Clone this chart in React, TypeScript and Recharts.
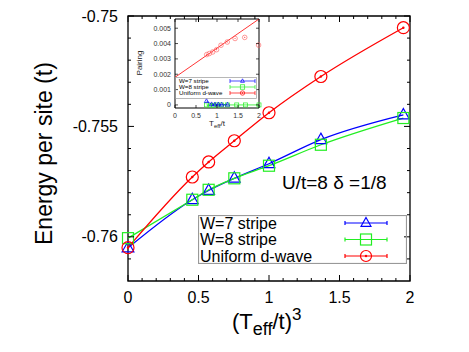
import React from "react";
import { Legend, Line, LineChart, ReferenceArea, XAxis, YAxis } from "recharts";

const FONT = "'Liberation Sans', Arial, Helvetica, sans-serif";

// main panel: energy per site vs (Teff/t)^3
const T_CUBED = [0, 0.456, 0.572, 0.754, 1.0, 1.368, 1.953];
const W7_ENERGY = [-0.7605, -0.75832, -0.7579, -0.75735, -0.75669, -0.7556, -0.75448];
const W8_ENERGY = [-0.76006, -0.75832, -0.75787, -0.75735, -0.75678, -0.75583, -0.75462];
const DWAVE_ENERGY = [-0.76049, -0.75729, -0.75661, -0.75565, -0.75438, -0.75274, -0.75053];

const Y_TICKS = [-0.761, -0.76, -0.759, -0.758, -0.757, -0.756, -0.755, -0.754, -0.753, -0.752, -0.751, -0.75];
const Y_LABELS = [-0.76, -0.755, -0.75];
const X_TICKS = [0, 0.1, 0.2, 0.3, 0.4, 0.5, 0.6, 0.7, 0.8, 0.9, 1, 1.1, 1.2, 1.3, 1.4, 1.5, 1.6, 1.7, 1.8, 1.9, 2];
const X_LABELS = [0, 0.5, 1, 1.5, 2];

// inset: pairing vs Teff/t
const INSET_T_W7 = [0.75, 0.87, 0.95, 1.03, 1.11, 1.25];
const INSET_PAIR_W7 = [0.00025, 0.00004, 0.00003, 0.00003, 0.00002, 0.00002];
const INSET_T_W8 = [0.75, 0.83, 0.91, 1.0, 1.11, 1.25, 1.47, 1.68, 2.0];
const INSET_PAIR_W8 = [0, -0.00008, -0.00002, 0, 0, 0, 0, 0, 0];
const INSET_T_DW = [0.755, 0.817, 0.897, 0.99, 1.095, 1.245, 1.43, 1.66, 1.99];
const INSET_PAIR_DW = [0.00328, 0.00335, 0.00345, 0.0036, 0.00389, 0.0041, 0.00433, 0.0044, 0.0039];
const INSET_FIT_T = [0, 2];
const INSET_FIT = [0.0018, 0.0056];
const INSET_Y_TICKS = [0, 0.001, 0.002, 0.003, 0.004, 0.005];
const INSET_X_TICKS = [0, 0.5, 1, 1.5, 2];

const BLUE = "#0000ff";
const GREEN = "#22ee22";
const RED = "#ff0000";

type Shape = "triangle" | "square" | "circle";
const SERIES: { key: string; name: string; color: string; shape: Shape }[] = [
  { key: "w7", name: "W=7 stripe", color: BLUE, shape: "triangle" },
  { key: "w8", name: "W=8 stripe", color: GREEN, shape: "square" },
  { key: "dw", name: "Uniform d-wave", color: RED, shape: "circle" },
];

const mainData = T_CUBED.map((x, i) => ({
  x,
  w7: W7_ENERGY[i],
  w8: W8_ENERGY[i],
  dw: DWAVE_ENERGY[i],
}));

const toPts = (ts: number[], vs: number[]) => ts.map((t, i) => ({ t, v: vs[i] }));
const insetW7 = toPts(INSET_T_W7, INSET_PAIR_W7);
const insetW8 = toPts(INSET_T_W8, INSET_PAIR_W8);
const insetDw = toPts(INSET_T_DW, INSET_PAIR_DW);
const insetFit = toPts(INSET_FIT_T, INSET_FIT);

// plot boxes (px, inside each chart's svg)
const MAIN = { left: 128, right: 410, top: 16, bottom: 281 };
const INSET = { left: 45, right: 129, top: 9, bottom: 98 };

const near = (list: number[], v: number) => list.some((l) => Math.abs(l - v) < 1e-9);

function Marker({ shape, cx, cy, color, s, w }: { shape: Shape; cx?: number; cy?: number; color: string; s: number; w: number }) {
  if (cx == null || cy == null) return null;
  if (shape === "circle")
    return (
      <g>
        <circle cx={cx} cy={cy} r={s} fill="none" stroke={color} strokeWidth={w} />
        <circle cx={cx} cy={cy} r={w} fill={color} />
      </g>
    );
  if (shape === "square")
    return <rect x={cx - s} y={cy - s} width={2 * s} height={2 * s} fill="none" stroke={color} strokeWidth={w} />;
  return (
    <path
      d={`M${cx},${cy - s} L${cx + s * 0.9},${cy + s * 0.6} L${cx - s * 0.9},${cy + s * 0.6} Z`}
      fill="none"
      stroke={color}
      strokeWidth={w}
    />
  );
}

const MainYTick = (p: any) => {
  const v = p.payload.value;
  const major = near(Y_LABELS, v);
  const len = major ? 6 : 3;
  return (
    <g>
      <line x1={MAIN.left} x2={MAIN.left + len} y1={p.y} y2={p.y} stroke="#000" />
      <line x1={MAIN.right - len} x2={MAIN.right} y1={p.y} y2={p.y} stroke="#000" />
      {major && (
        <text x={MAIN.left - 10} y={p.y} dy="0.35em" textAnchor="end" fontSize={16} fill="#000" fontFamily={FONT}>
          {String(v)}
        </text>
      )}
    </g>
  );
};

const MainXTick = (p: any) => {
  const v = p.payload.value;
  const major = near(X_LABELS, v);
  const len = major ? 6 : 3;
  return (
    <g>
      <line x1={p.x} x2={p.x} y1={MAIN.bottom} y2={MAIN.bottom - len} stroke="#000" />
      <line x1={p.x} x2={p.x} y1={MAIN.top} y2={MAIN.top + len} stroke="#000" />
      {major && (
        <text x={p.x} y={303} textAnchor="middle" fontSize={16} fill="#000" fontFamily={FONT}>
          {String(v)}
        </text>
      )}
    </g>
  );
};

const InsetYTick = (p: any) => (
  <g>
    <line x1={INSET.left} x2={INSET.left + 3} y1={p.y} y2={p.y} stroke="#000" strokeWidth={0.7} />
    <line x1={INSET.right - 3} x2={INSET.right} y1={p.y} y2={p.y} stroke="#000" strokeWidth={0.7} />
    <text x={INSET.left - 4} y={p.y} dy="0.35em" textAnchor="end" fontSize={7} fill="#333" fontFamily={FONT}>
      {String(p.payload.value)}
    </text>
  </g>
);

const InsetXTick = (p: any) => (
  <g>
    <line x1={p.x} x2={p.x} y1={INSET.bottom} y2={INSET.bottom - 3} stroke="#000" strokeWidth={0.7} />
    <line x1={p.x} x2={p.x} y1={INSET.top} y2={INSET.top + 3} stroke="#000" strokeWidth={0.7} />
    <text x={p.x} y={INSET.bottom + 10} textAnchor="middle" fontSize={7} fill="#333" fontFamily={FONT}>
      {String(p.payload.value)}
    </text>
  </g>
);

function LegendBox({ w, h, rows, fontSize, textX, sx1, sx2, s, lw }: any) {
  return (
    <svg width={w} height={h} style={{ display: "block" }}>
      <rect x={0.5} y={0.5} width={w - 1} height={h - 1} fill="none" stroke="#999" strokeWidth={lw} />
      {SERIES.map((sr, i) => {
        const cy = rows[i];
        const mx = (sx1 + sx2) / 2;
        return (
          <g key={sr.key}>
            <text x={textX} y={cy} dy="0.35em" fontSize={fontSize} fill="#000" fontFamily={FONT}>
              {sr.name}
            </text>
            <line x1={sx1} x2={sx2} y1={cy} y2={cy} stroke={sr.color} strokeWidth={lw} />
            <line x1={sx1} x2={sx1} y1={cy - 2} y2={cy + 2} stroke={sr.color} strokeWidth={lw} />
            <line x1={sx2} x2={sx2} y1={cy - 2} y2={cy + 2} stroke={sr.color} strokeWidth={lw} />
            <Marker shape={sr.shape} cx={mx} cy={cy} color={sr.color} s={s} w={lw} />
          </g>
        );
      })}
    </svg>
  );
}

const mainSizes: Record<Shape, number> = { triangle: 6.5, square: 5.5, circle: 6 };
const insetSizes: Record<Shape, number> = { triangle: 2.4, square: 2, circle: 2.3 };

export default function App() {
  return (
    <div style={{ position: "absolute", left: 0, top: 0, width: 469, height: 352, background: "#fff", fontFamily: FONT }}>
      <LineChart width={469} height={352} data={mainData} margin={{ top: 16, right: 59, left: 0, bottom: 0 }}>
        <XAxis
          dataKey="x"
          type="number"
          domain={[0, 2]}
          ticks={X_TICKS}
          interval={0}
          height={71}
          axisLine={false}
          tickLine={false}
          tick={MainXTick}
          label={() => (
            <text x={232} y={329} fontSize={22} fill="#000" fontFamily={FONT}>
              (T
              <tspan fontSize={18} dy={6}>eff</tspan>
              <tspan fontSize={22} dy={-6}>/t)</tspan>
              <tspan fontSize={17} dy={-9}>3</tspan>
            </text>
          )}
        />
        <YAxis
          type="number"
          domain={[-0.762, -0.75]}
          allowDataOverflow
          ticks={Y_TICKS}
          interval={0}
          width={128}
          axisLine={false}
          tickLine={false}
          tick={MainYTick}
          label={() => (
            <text transform="translate(52,245) rotate(-90)" textAnchor="start" fontSize={23} fill="#000" fontFamily={FONT}>
              Energy per site (t)
            </text>
          )}
        />
        <ReferenceArea x1={0} x2={2} y1={-0.762} y2={-0.75} fill="none" stroke="#000" strokeWidth={1.3} ifOverflow="visible" />
        {SERIES.map((sr) => (
          <Line
            key={sr.key}
            dataKey={sr.key}
            name={sr.name}
            type="monotone"
            stroke={sr.color}
            strokeWidth={1.3}
            isAnimationActive={false}
            dot={(p: any) => (
              <Marker key={`${sr.key}-${p.index}`} shape={sr.shape} cx={p.cx} cy={p.cy} color={sr.color} s={mainSizes[sr.shape]} w={1.2} />
            )}
          />
        ))}
        <Legend
          layout="horizontal"
          verticalAlign="middle"
          align="center"
          wrapperStyle={{ left: 198, top: 215, width: 209, height: 49 }}
          content={() => (
            <LegendBox w={209} h={49} rows={[8, 24.5, 41]} fontSize={16} textX={2} sx1={147} sx2={189} s={5.5} lw={1.2} />
          )}
        />
      </LineChart>

      <svg width={469} height={352} style={{ position: "absolute", left: 0, top: 0, pointerEvents: "none" }}>
        <text x={282} y={189} fontSize={19} fill="#000" fontFamily={FONT}>
          U/t=8 δ =1/8
        </text>
      </svg>

      <div style={{ position: "absolute", left: 130, top: 10 }}>
        <LineChart width={140} height={125} margin={{ top: 9, right: 11, left: 0, bottom: 0 }}>
          <XAxis
            dataKey="t"
            type="number"
            domain={[0, 2]}
            ticks={INSET_X_TICKS}
            interval={0}
            height={27}
            axisLine={false}
            tickLine={false}
            tick={InsetXTick}
            label={() => (
              <text x={87} y={116} textAnchor="middle" fontSize={8} fill="#222" fontFamily={FONT}>
                T<tspan fontSize={6} dy={2}>eff</tspan>
                <tspan fontSize={8} dy={-2}>/t</tspan>
              </text>
            )}
          />
          <YAxis
            type="number"
            domain={[-0.0002, 0.0056]}
            allowDataOverflow
            ticks={INSET_Y_TICKS}
            interval={0}
            width={45}
            axisLine={false}
            tickLine={false}
            tick={InsetYTick}
            label={() => (
              <text transform="translate(12,53) rotate(-90)" textAnchor="middle" fontSize={8} fill="#222" fontFamily={FONT}>
                Pairing
              </text>
            )}
          />
          <ReferenceArea x1={0} x2={2} y1={-0.0002} y2={0.0056} fill="none" stroke="#000" strokeWidth={1} ifOverflow="visible" />
          <Line data={insetFit} dataKey="v" name="fit" type="linear" stroke={RED} strokeWidth={0.8} dot={false} isAnimationActive={false} />
          <Line
            data={insetDw}
            dataKey="v"
            name="Uniform d-wave"
            stroke="none"
            isAnimationActive={false}
            dot={(p: any) => <Marker key={`idw-${p.index}`} shape="circle" cx={p.cx} cy={p.cy} color="#ff5555" s={insetSizes.circle} w={0.6} />}
          />
          <Line
            data={insetW8}
            dataKey="v"
            name="W=8 stripe"
            type="linear"
            stroke={GREEN}
            strokeWidth={0.8}
            isAnimationActive={false}
            dot={(p: any) => <Marker key={`iw8-${p.index}`} shape="square" cx={p.cx} cy={p.cy} color={GREEN} s={insetSizes.square} w={0.7} />}
          />
          <Line
            data={insetW7}
            dataKey="v"
            name="W=7 stripe"
            type="linear"
            stroke={BLUE}
            strokeWidth={0.8}
            isAnimationActive={false}
            dot={(p: any) => <Marker key={`iw7-${p.index}`} shape="triangle" cx={p.cx} cy={p.cy} color={BLUE} s={insetSizes.triangle} w={0.7} />}
          />
          <Legend
            layout="horizontal"
            verticalAlign="middle"
            align="center"
            wrapperStyle={{ left: 45, top: 67, width: 82, height: 22 }}
            content={() => (
              <LegendBox w={82} h={22} rows={[4, 10, 16]} fontSize={6.2} textX={4} sx1={55} sx2={80} s={2.2} lw={0.7} />
            )}
          />
        </LineChart>
      </div>
    </div>
  );
}
